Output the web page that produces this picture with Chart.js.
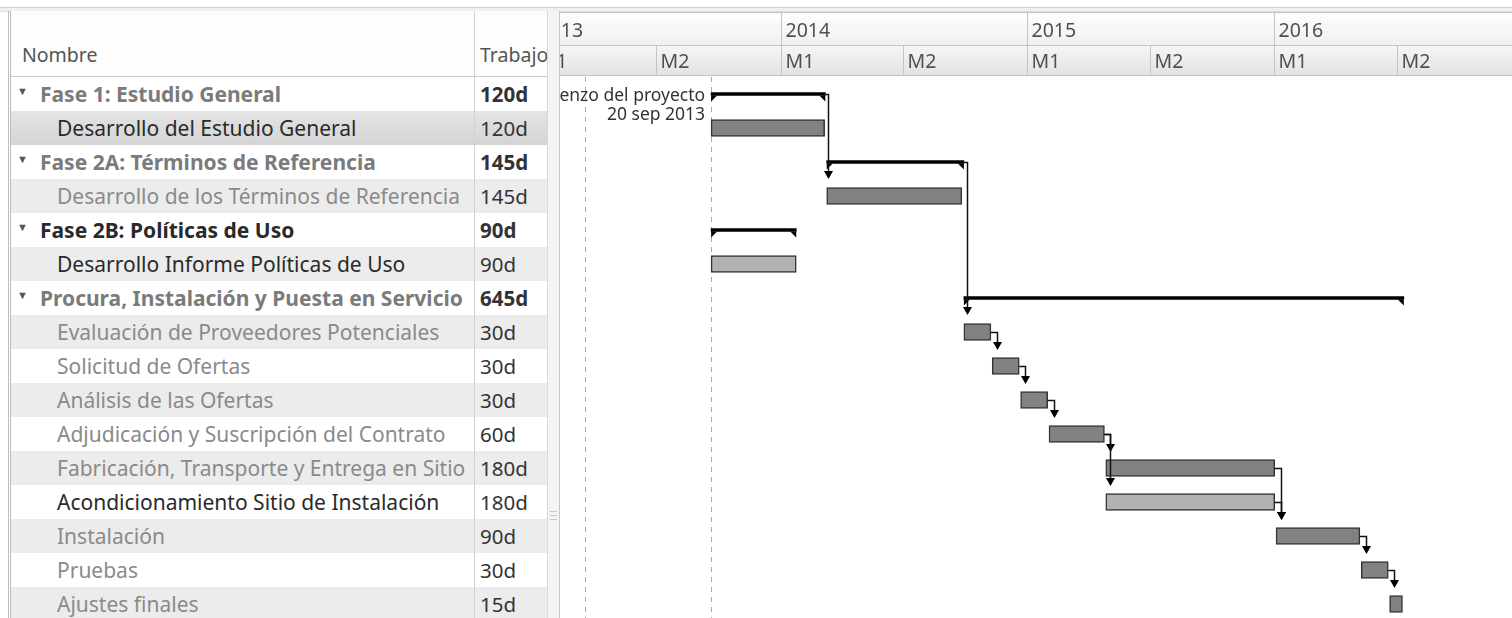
<!DOCTYPE html>
<html lang="es">
<head>
<meta charset="utf-8">
<title>Diagrama de Gantt</title>
<script src="https://cdn.jsdelivr.net/npm/chart.js@4.4.1/dist/chart.umd.min.js"></script>
<style>
  html, body { margin: 0; padding: 0; width: 1512px; height: 618px; overflow: hidden; background: #fff; }
  body { font-family: "Noto Sans", sans-serif; position: relative; }
  #franja { position: absolute; left: 0; top: 7px; width: 1512px; height: 3px; border-top: 1px solid #cfcfcf; background: #f0f0f0; border-bottom: 1px solid #dedede; }
  #tabla { position: absolute; left: 8px; top: 11px; width: 536px; height: 620px; border-left: 3px double #bdbdbd; overflow: hidden; }
  .fila { display: flex; height: 34px; align-items: center; white-space: nowrap; }
  .fila.par { background: #ececec; }
  .fila.sel { background: linear-gradient(#e4e4e4, #d4d4d4); }
  .nombre { flex: 0 0 463px; box-sizing: border-box; overflow: hidden; height: 100%; display: flex; align-items: center; }
  .trabajo { flex: 0 0 80px; box-sizing: border-box; padding-left: 5px; height: 100%; display: flex; align-items: center; border-left: 1px solid #d2d2d2; color: #333; }
  #cabecera { height: 66px; border-bottom: 1px solid #cdcdcd; box-sizing: border-box; align-items: flex-end; background: #fdfdfd; }
  #cabecera .nombre, #cabecera .trabajo { align-items: flex-end; padding-bottom: 8px; color: #555; font-size: 19.5px; }
  #cabecera .nombre { padding-left: 11px; }
  .cuerpo { font-size: 21px; }
  .fase .nombre { padding-left: 6px; font-weight: bold; color: #7b7b7b; }
  .fase .trabajo { font-weight: bold; font-size: 20.5px; }
  .tarea .trabajo { font-size: 20.5px; }
  .tarea .nombre { padding-left: 46px; color: #8a8a8a; }
  .oscuro .nombre { color: #2a2a2a; }
  .tri { font-size: 11px; color: #555; width: 23px; display: inline-block; position: relative; top: -4px; }
  #divisor { position: absolute; left: 547px; top: 11px; width: 11px; height: 620px; background: #f4f4f4; border-left: 1px solid #d8d8d8; border-right: 1px solid #c6c6c6; }
  #agarre { position: absolute; left: 2px; top: 500px; width: 7px; height: 7px; border-top: 1px solid #c8c8c8; border-bottom: 1px solid #c8c8c8; }
  #agarre::after { content: ""; position: absolute; left: 0; top: 3px; width: 7px; border-top: 1px solid #c8c8c8; }
  #lienzo { position: absolute; left: 560px; top: 0; }
</style>
</head>
<body>
<div id="franja"></div>
<div id="tabla"></div>
<div id="divisor"><div id="agarre"></div></div>
<canvas id="lienzo" width="952" height="621"></canvas>
<script>
const tareas = ['Fase 1: Estudio General', 'Desarrollo del Estudio General',
    'Fase 2A: Términos de Referencia', 'Desarrollo de los Términos de Referencia',
    'Fase 2B: Políticas de Uso', 'Desarrollo Informe Políticas de Uso',
    'Procura, Instalación y Puesta en Servicio', 'Evaluación de Proveedores Potenciales',
    'Solicitud de Ofertas', 'Análisis de las Ofertas', 'Adjudicación y Suscripción del Contrato',
    'Fabricación, Transporte y Entrega en Sitio', 'Acondicionamiento Sitio de Instalación',
    'Instalación', 'Pruebas', 'Ajustes finales'];
const trabajo = ['120d', '120d', '145d', '145d', '90d', '90d', '645d', '30d',
    '30d', '30d', '60d', '180d', '180d', '90d', '30d', '15d'];
const esFase = [true, false, true, false, true, false, true, false,
    false, false, false, false, false, false, false, false];
const inicio = ['2013-09-20', '2013-09-20', '2014-03-10', '2014-03-10', '2013-09-20', '2013-09-20',
    '2014-09-29', '2014-09-29', '2014-11-10', '2014-12-22', '2015-02-02', '2015-04-27',
    '2015-04-27', '2016-01-04', '2016-05-09', '2016-06-20'];
const fin = ['2014-03-08', '2014-03-07', '2014-09-29', '2014-09-26', '2014-01-24', '2014-01-24',
    '2016-07-11', '2014-11-08', '2014-12-20', '2015-01-31', '2015-04-25', '2016-01-02',
    '2016-01-02', '2016-05-07', '2016-06-18', '2016-07-09'];
const dependencias = [[0, 2], [2, 6], [7, 8], [8, 9], [9, 10], [10, 11], [10, 12],
    [11, 13], [12, 13], [13, 14], [14, 15]];
const anios = ['2013', '2014', '2015', '2016'];
const semestres = ['M1', 'M2'];
const semestreInicio = ['-01-01', '-07-01'];
const hitoNombre = 'Comienzo del proyecto';
const hitoTexto = '20 sep 2013';
const hitoFecha = '2013-09-20';
const hoy = '2013-03-18';
const rangoDias = [-326.6, 1082.1];   // dias desde 1 ene 2014

// estilo
const filasOscuras = [1, 4, 5, 12];
const barrasClaras = [5, 12];

function dia(s) {
    const p = s.split('-').map(Number);
    return (Date.UTC(p[0], p[1] - 1, p[2]) - Date.UTC(2014, 0, 1)) / 86400000;
}

// extremos de una barra flotante
function extremos(el) {
    const p = el.getProps(['x', 'base', 'y'], true);
    return { ini: Math.min(p.x, p.base), fin: Math.max(p.x, p.base), y: p.y };
}

// tabla izquierda
const tabla = document.querySelector('#tabla');
let html = '<div class="fila" id="cabecera"><div class="nombre">Nombre</div><div class="trabajo">Trabajo</div></div>';
tareas.forEach((t, i) => {
    let cls = 'fila cuerpo ' + (esFase[i] ? 'fase' : 'tarea');
    if (i === 1) cls += ' sel';
    else if (i % 2 === 1) cls += ' par';
    if (filasOscuras.includes(i)) cls += ' oscuro';
    const tri = esFase[i] ? '<span class="tri">&#9660;</span>' : '';
    html += '<div class="' + cls + '"><div class="nombre">' + tri + t + '</div><div class="trabajo">' + trabajo[i] + '</div></div>';
});
tabla.innerHTML = html;

const ganttPlugin = {
    id: 'gantt',
    beforeDraw(chart) {
        const { ctx, width, scales: { x } } = chart;
        ctx.save();
        let g = ctx.createLinearGradient(0, 12, 0, 45);
        g.addColorStop(0, '#fefefe');
        g.addColorStop(1, '#f0f0f0');
        ctx.fillStyle = g;
        ctx.fillRect(0, 12, width, 33);
        g = ctx.createLinearGradient(0, 45, 0, 76);
        g.addColorStop(0, '#f6f6f6');
        g.addColorStop(1, '#e2e2e2');
        ctx.fillStyle = g;
        ctx.fillRect(0, 45, width, 31);
        ctx.strokeStyle = '#c4c4c4';
        ctx.lineWidth = 1;
        ctx.beginPath();
        [12.5, 45.5, 75.5].forEach(y => { ctx.moveTo(0, y); ctx.lineTo(width, y); });
        ctx.stroke();
        ctx.strokeStyle = '#f8f8f8';
        ctx.beginPath(); ctx.moveTo(0, 76.5); ctx.lineTo(width, 76.5); ctx.stroke();
        ctx.font = '19.5px "Noto Sans"';
        ctx.fillStyle = '#505050';
        ctx.textBaseline = 'alphabetic';
        ctx.strokeStyle = '#c4c4c4';
        anios.forEach(a => {
            semestres.forEach((m, k) => {
                const px = Math.round(x.getPixelForValue(dia(a + semestreInicio[k]))) + 0.5;
                ctx.beginPath();
                ctx.moveTo(px, k === 0 ? 12 : 45);
                ctx.lineTo(px, 76);
                ctx.stroke();
                ctx.fillText(m, px + 4, 68);
                if (k === 0) ctx.fillText(a, px + 4, 37);
            });
        });
        ctx.restore();
    },
    beforeDatasetsDraw(chart) {
        const { ctx, chartArea, scales: { x } } = chart;
        ctx.save();
        ctx.strokeStyle = '#a8a8a8';
        ctx.lineWidth = 1;
        ctx.setLineDash([5, 5]);
        [hoy, hitoFecha].forEach(d => {
            const px = Math.round(x.getPixelForValue(dia(d))) + 0.5;
            ctx.beginPath();
            ctx.moveTo(px, chartArea.top);
            ctx.lineTo(px, chartArea.bottom);
            ctx.stroke();
        });
        ctx.restore();
    },
    afterDatasetsDraw(chart) {
        const { ctx, scales: { x, y } } = chart;
        const barras = chart.getDatasetMeta(0).data;
        const resumen = chart.getDatasetMeta(1).data;
        ctx.save();
        // triangulos de las fases
        ctx.fillStyle = '#000';
        resumen.forEach((el, i) => {
            if (!esFase[i]) return;
            const p = extremos(el);
            const yb = p.y + 1.5;
            ctx.beginPath();
            ctx.moveTo(p.ini, yb); ctx.lineTo(p.ini + 6, yb); ctx.lineTo(p.ini, yb + 6);
            ctx.closePath(); ctx.fill();
            ctx.beginPath();
            ctx.moveTo(p.fin, yb); ctx.lineTo(p.fin - 6, yb); ctx.lineTo(p.fin, yb + 6);
            ctx.closePath(); ctx.fill();
        });
        // dependencias
        ctx.strokeStyle = '#111';
        ctx.lineWidth = 1.5;
        dependencias.forEach(([a, b]) => {
            const pa = extremos((esFase[a] ? resumen : barras)[a]);
            const pb = extremos((esFase[b] ? resumen : barras)[b]);
            const xv = Math.round(pa.fin + (esFase[a] ? 3 : 6)) + 0.5;
            const ya = Math.round(pa.y) + 0.5;
            const punta = esFase[b] ? pb.y + 17 : pb.y - 16;
            ctx.beginPath();
            ctx.moveTo(pa.fin, ya);
            ctx.lineTo(xv, ya);
            ctx.lineTo(xv, punta - 6);
            ctx.stroke();
            ctx.beginPath();
            ctx.moveTo(xv - 4.5, punta - 8);
            ctx.lineTo(xv + 4.5, punta - 8);
            ctx.lineTo(xv, punta);
            ctx.closePath();
            ctx.fill();
        });
        // hito de inicio
        const hx = x.getPixelForValue(dia(hitoFecha));
        const hy = y.getPixelForValue(0);
        ctx.font = '17.5px "Noto Sans"';
        ctx.fillStyle = '#333';
        ctx.textAlign = 'right';
        ctx.fillText(hitoNombre, hx - 6, hy + 7);
        ctx.fillText(hitoTexto, hx - 6, hy + 26);
        ctx.restore();
    }
};

new Chart(document.querySelector('#lienzo'), {
    type: 'bar',
    data: {
        labels: tareas,
        datasets: [
            {
                label: 'Tareas',
                data: tareas.map((t, i) => esFase[i] ? null : [dia(inicio[i]), dia(fin[i])]),
                backgroundColor: tareas.map((t, i) => barrasClaras.includes(i) ? '#b2b2b2' : '#828282'),
                borderColor: '#333',
                borderWidth: 1.5,
                borderSkipped: false,
                barThickness: 17,
                grouped: false
            },
            {
                label: 'Fases',
                data: tareas.map((t, i) => esFase[i] ? [dia(inicio[i]), dia(fin[i])] : null),
                backgroundColor: '#000',
                borderWidth: 0,
                barThickness: 3,
                grouped: false
            }
        ]
    },
    options: {
        indexAxis: 'y',
        responsive: false,
        animation: false,
        layout: { padding: { top: 77, left: 0, right: 0, bottom: 0 } },
        scales: {
            x: { type: 'linear', min: rangoDias[0], max: rangoDias[1], display: false },
            y: { type: 'category', display: false }
        },
        plugins: { legend: { display: false }, tooltip: { enabled: false } }
    },
    plugins: [ganttPlugin]
});
</script>
</body>
</html>
